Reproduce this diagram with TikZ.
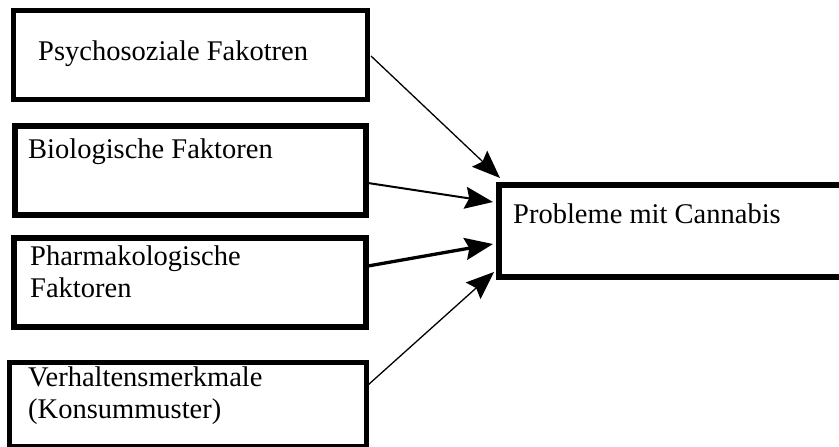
\documentclass[tikz,border=0pt]{standalone}
\usepackage{fontspec}
\setmainfont{Liberation Serif}
\usetikzlibrary{arrows.meta}
\begin{document}
\begin{tikzpicture}[x=1pt,y=-1pt,
  boxshape/.style={draw=black,fill=none,rectangle,inner sep=0pt},
  boxlabel/.style={anchor=base west,inner sep=0pt,font=\fontsize{28.5}{32}\selectfont,align=left},
  conn/.style={-{Stealth[length=28pt,width=22pt,inset=4pt]},black}]
\useasboundingbox (0,0) rectangle (839,447);
\clip (0,0) rectangle (839,447);
% boxes (drawn as nodes spanning their corners)
\node[boxshape,line width=5pt,minimum width=354pt,minimum height=89pt,anchor=north west] (b1) at (10.5,7.5) {};
\node[boxshape,line width=6.5pt,minimum width=351pt,minimum height=89pt,anchor=north west] (b2) at (11.5,122.5) {};
\node[boxshape,line width=6pt,minimum width=352pt,minimum height=89pt,anchor=north west] (b3) at (11,235) {};
\node[boxshape,line width=5pt,minimum width=357pt,minimum height=84pt,anchor=north west] (b4) at (7,360) {};
\node[boxshape,line width=5.5pt,minimum width=400pt,minimum height=92pt,anchor=north west] (r) at (496,182) {};
% texts (base = baseline of the last line)
\node[boxlabel] (t1) at (38,60) {Psychosoziale Fakotren};
\node[boxlabel] (t2) at (28,158) {Biologische Faktoren};
\node[boxlabel] (t3) at (30,297) {Pharmakologische\\Faktoren};
\node[boxlabel] (t4) at (28,418) {Verhaltensmerkmale\\(Konsummuster)};
\node[boxlabel] (t5) at (513,223) {Probleme mit Cannabis};
% connector end points
\coordinate (s1) at (371,56);
\coordinate (s2) at (368,183);
\coordinate (s3) at (368,266);
\coordinate (s4) at (368,385);
\coordinate (e1) at (500,178);
\coordinate (e2) at (493,202);
\coordinate (e3) at (493,244);
\coordinate (e4) at (494,272);
\draw[conn,line width=1.3pt] (s1) -- (e1);
\draw[conn,line width=2pt] (s2) -- (e2);
\draw[conn,line width=3.3pt] (s3) -- (e3);
\draw[conn,line width=1.3pt] (s4) -- (e4);
\end{tikzpicture}
\end{document}
